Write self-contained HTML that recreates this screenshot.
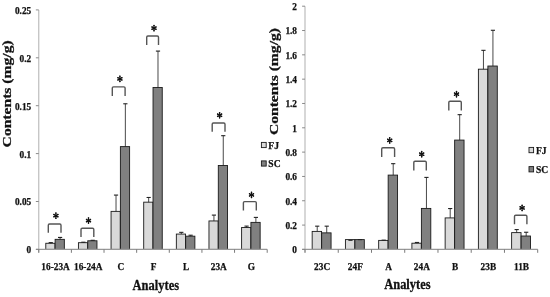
<!DOCTYPE html>
<html><head><meta charset="utf-8"><style>
html,body{margin:0;padding:0;background:#fff;width:550px;height:297px;overflow:hidden}
svg{display:block;filter:blur(0.25px)}
text{font-family:"Liberation Serif", serif;font-weight:bold;fill:#111;stroke:#111;stroke-width:0.25px}
.t{font-size:9.3px}
.lg{font-size:9.6px}
.ax{font-size:12.5px}
.yt{font-size:12.8px}
.star{font-size:14px}
</style></head><body>
<svg width="550" height="297" viewBox="0 0 550 297">
<rect width="550" height="297" fill="#fff"/>
<rect x="45.79" y="243.27" width="9.22" height="6.13" fill="#d9d9d9" stroke="#1a1a1a" stroke-width="0.9"/>
<rect x="55.12" y="239.34" width="9.22" height="10.06" fill="#808080" stroke="#1a1a1a" stroke-width="0.9"/>
<line x1="50.76" y1="243.27" x2="50.76" y2="242.6" stroke="#1a1a1a" stroke-width="0.8"/>
<line x1="48.66" y1="242.6" x2="52.86" y2="242.6" stroke="#222" stroke-width="1.1"/>
<line x1="60.08" y1="239.34" x2="60.08" y2="237.43" stroke="#1a1a1a" stroke-width="0.8"/>
<line x1="57.98" y1="237.43" x2="62.18" y2="237.43" stroke="#222" stroke-width="1.1"/>
<rect x="78.43" y="242.69" width="9.22" height="6.71" fill="#d9d9d9" stroke="#1a1a1a" stroke-width="0.9"/>
<rect x="87.75" y="240.78" width="9.22" height="8.62" fill="#808080" stroke="#1a1a1a" stroke-width="0.9"/>
<line x1="83.39" y1="242.69" x2="83.39" y2="242.22" stroke="#1a1a1a" stroke-width="0.8"/>
<line x1="81.29" y1="242.22" x2="85.49" y2="242.22" stroke="#222" stroke-width="1.1"/>
<line x1="92.72" y1="240.78" x2="92.72" y2="240.3" stroke="#1a1a1a" stroke-width="0.8"/>
<line x1="90.62" y1="240.3" x2="94.82" y2="240.3" stroke="#222" stroke-width="1.1"/>
<rect x="111.06" y="211.37" width="9.22" height="38.03" fill="#d9d9d9" stroke="#1a1a1a" stroke-width="0.9"/>
<rect x="120.39" y="146.61" width="9.22" height="102.79" fill="#808080" stroke="#1a1a1a" stroke-width="0.9"/>
<line x1="116.03" y1="211.37" x2="116.03" y2="195.08" stroke="#1a1a1a" stroke-width="0.8"/>
<line x1="113.93" y1="195.08" x2="118.13" y2="195.08" stroke="#222" stroke-width="1.1"/>
<line x1="125.35" y1="146.61" x2="125.35" y2="103.78" stroke="#1a1a1a" stroke-width="0.8"/>
<line x1="123.25" y1="103.78" x2="127.45" y2="103.78" stroke="#222" stroke-width="1.1"/>
<rect x="143.7" y="202.17" width="9.22" height="47.23" fill="#d9d9d9" stroke="#1a1a1a" stroke-width="0.9"/>
<rect x="153.03" y="87.5" width="9.22" height="161.9" fill="#808080" stroke="#1a1a1a" stroke-width="0.9"/>
<line x1="148.66" y1="202.17" x2="148.66" y2="197.48" stroke="#1a1a1a" stroke-width="0.8"/>
<line x1="146.56" y1="197.48" x2="150.76" y2="197.48" stroke="#222" stroke-width="1.1"/>
<line x1="157.99" y1="87.5" x2="157.99" y2="51.09" stroke="#1a1a1a" stroke-width="0.8"/>
<line x1="155.89" y1="51.09" x2="160.09" y2="51.09" stroke="#222" stroke-width="1.1"/>
<rect x="176.34" y="234.07" width="9.22" height="15.33" fill="#d9d9d9" stroke="#1a1a1a" stroke-width="0.9"/>
<rect x="185.66" y="236.18" width="9.22" height="13.22" fill="#808080" stroke="#1a1a1a" stroke-width="0.9"/>
<line x1="181.3" y1="234.07" x2="181.3" y2="232.35" stroke="#1a1a1a" stroke-width="0.8"/>
<line x1="179.2" y1="232.35" x2="183.4" y2="232.35" stroke="#222" stroke-width="1.1"/>
<line x1="190.62" y1="236.18" x2="190.62" y2="235.22" stroke="#1a1a1a" stroke-width="0.8"/>
<line x1="188.52" y1="235.22" x2="192.72" y2="235.22" stroke="#222" stroke-width="1.1"/>
<rect x="208.97" y="220.95" width="9.22" height="28.45" fill="#d9d9d9" stroke="#1a1a1a" stroke-width="0.9"/>
<rect x="218.3" y="165.48" width="9.22" height="83.92" fill="#808080" stroke="#1a1a1a" stroke-width="0.9"/>
<line x1="213.93" y1="220.95" x2="213.93" y2="215.1" stroke="#1a1a1a" stroke-width="0.8"/>
<line x1="211.83" y1="215.1" x2="216.03" y2="215.1" stroke="#222" stroke-width="1.1"/>
<line x1="223.26" y1="165.48" x2="223.26" y2="135.69" stroke="#1a1a1a" stroke-width="0.8"/>
<line x1="221.16" y1="135.69" x2="225.36" y2="135.69" stroke="#222" stroke-width="1.1"/>
<rect x="241.61" y="227.46" width="9.22" height="21.94" fill="#d9d9d9" stroke="#1a1a1a" stroke-width="0.9"/>
<rect x="250.93" y="222.38" width="9.22" height="27.02" fill="#808080" stroke="#1a1a1a" stroke-width="0.9"/>
<line x1="246.57" y1="227.46" x2="246.57" y2="226.12" stroke="#1a1a1a" stroke-width="0.8"/>
<line x1="244.47" y1="226.12" x2="248.67" y2="226.12" stroke="#222" stroke-width="1.1"/>
<line x1="255.89" y1="222.38" x2="255.89" y2="217.4" stroke="#1a1a1a" stroke-width="0.8"/>
<line x1="253.79" y1="217.4" x2="257.99" y2="217.4" stroke="#222" stroke-width="1.1"/>
<line x1="38.75" y1="9.9" x2="38.75" y2="252.4" stroke="#bcbcbc" stroke-width="1.2"/>
<line x1="35.95" y1="249.4" x2="267.2" y2="249.4" stroke="#989898" stroke-width="1.2"/>
<line x1="35.85" y1="249.4" x2="38.75" y2="249.4" stroke="#8a8a8a" stroke-width="1.0"/>
<text x="31.2" y="253.3" text-anchor="end" class="t">0</text>
<line x1="35.85" y1="201.5" x2="38.75" y2="201.5" stroke="#8a8a8a" stroke-width="1.0"/>
<text x="31.2" y="205.4" text-anchor="end" class="t">0.05</text>
<line x1="35.85" y1="153.6" x2="38.75" y2="153.6" stroke="#8a8a8a" stroke-width="1.0"/>
<text x="31.2" y="157.5" text-anchor="end" class="t">0.1</text>
<line x1="35.85" y1="105.7" x2="38.75" y2="105.7" stroke="#8a8a8a" stroke-width="1.0"/>
<text x="31.2" y="109.6" text-anchor="end" class="t">0.15</text>
<line x1="35.85" y1="57.8" x2="38.75" y2="57.8" stroke="#8a8a8a" stroke-width="1.0"/>
<text x="31.2" y="61.7" text-anchor="end" class="t">0.2</text>
<line x1="35.85" y1="9.9" x2="38.75" y2="9.9" stroke="#8a8a8a" stroke-width="1.0"/>
<text x="31.2" y="13.8" text-anchor="end" class="t">0.25</text>
<line x1="38.75" y1="249.4" x2="38.75" y2="252.8" stroke="#7a7a7a" stroke-width="1.0"/>
<line x1="71.39" y1="249.4" x2="71.39" y2="252.8" stroke="#7a7a7a" stroke-width="1.0"/>
<line x1="104.02" y1="249.4" x2="104.02" y2="252.8" stroke="#7a7a7a" stroke-width="1.0"/>
<line x1="136.66" y1="249.4" x2="136.66" y2="252.8" stroke="#7a7a7a" stroke-width="1.0"/>
<line x1="169.29" y1="249.4" x2="169.29" y2="252.8" stroke="#7a7a7a" stroke-width="1.0"/>
<line x1="201.93" y1="249.4" x2="201.93" y2="252.8" stroke="#7a7a7a" stroke-width="1.0"/>
<line x1="234.56" y1="249.4" x2="234.56" y2="252.8" stroke="#7a7a7a" stroke-width="1.0"/>
<line x1="267.2" y1="249.4" x2="267.2" y2="252.8" stroke="#7a7a7a" stroke-width="1.0"/>
<text x="55.57" y="269.6" text-anchor="middle" class="t">16-23A</text>
<text x="88.2" y="269.6" text-anchor="middle" class="t">16-24A</text>
<text x="120.84" y="269.6" text-anchor="middle" class="t">C</text>
<text x="153.47" y="269.6" text-anchor="middle" class="t">F</text>
<text x="186.11" y="269.6" text-anchor="middle" class="t">L</text>
<text x="218.75" y="269.6" text-anchor="middle" class="t">23A</text>
<text x="251.38" y="269.6" text-anchor="middle" class="t">G</text>
<rect x="312.17" y="231.4" width="9.4" height="18" fill="#d9d9d9" stroke="#1a1a1a" stroke-width="0.9"/>
<rect x="321.67" y="232.86" width="9.4" height="16.54" fill="#808080" stroke="#1a1a1a" stroke-width="0.9"/>
<line x1="317.22" y1="231.4" x2="317.22" y2="226.17" stroke="#1a1a1a" stroke-width="0.8"/>
<line x1="315.12" y1="226.17" x2="319.32" y2="226.17" stroke="#222" stroke-width="1.1"/>
<line x1="326.72" y1="232.86" x2="326.72" y2="226.17" stroke="#1a1a1a" stroke-width="0.8"/>
<line x1="324.62" y1="226.17" x2="328.82" y2="226.17" stroke="#222" stroke-width="1.1"/>
<rect x="345.42" y="239.6" width="9.4" height="9.8" fill="#d9d9d9" stroke="#1a1a1a" stroke-width="0.9"/>
<rect x="354.91" y="239.6" width="9.4" height="9.8" fill="#808080" stroke="#1a1a1a" stroke-width="0.9"/>
<line x1="348.37" y1="240.3" x2="352.57" y2="240.3" stroke="#222" stroke-width="1.1"/>
<line x1="357.86" y1="239.6" x2="362.06" y2="239.6" stroke="#222" stroke-width="1.1"/>
<rect x="378.66" y="240.4" width="9.4" height="9" fill="#d9d9d9" stroke="#1a1a1a" stroke-width="0.9"/>
<rect x="388.16" y="175.1" width="9.4" height="74.3" fill="#808080" stroke="#1a1a1a" stroke-width="0.9"/>
<line x1="383.71" y1="240.4" x2="383.71" y2="240.16" stroke="#1a1a1a" stroke-width="0.8"/>
<line x1="381.61" y1="240.16" x2="385.81" y2="240.16" stroke="#222" stroke-width="1.1"/>
<line x1="393.21" y1="175.1" x2="393.21" y2="163.67" stroke="#1a1a1a" stroke-width="0.8"/>
<line x1="391.11" y1="163.67" x2="395.31" y2="163.67" stroke="#222" stroke-width="1.1"/>
<rect x="411.9" y="243.2" width="9.4" height="6.2" fill="#d9d9d9" stroke="#1a1a1a" stroke-width="0.9"/>
<rect x="421.4" y="208.42" width="9.4" height="40.98" fill="#808080" stroke="#1a1a1a" stroke-width="0.9"/>
<line x1="416.95" y1="243.2" x2="416.95" y2="242.47" stroke="#1a1a1a" stroke-width="0.8"/>
<line x1="414.85" y1="242.47" x2="419.05" y2="242.47" stroke="#222" stroke-width="1.1"/>
<line x1="426.45" y1="208.42" x2="426.45" y2="177.41" stroke="#1a1a1a" stroke-width="0.8"/>
<line x1="424.35" y1="177.41" x2="428.55" y2="177.41" stroke="#222" stroke-width="1.1"/>
<rect x="445.14" y="217.91" width="9.4" height="31.49" fill="#d9d9d9" stroke="#1a1a1a" stroke-width="0.9"/>
<rect x="454.64" y="140.08" width="9.4" height="109.32" fill="#808080" stroke="#1a1a1a" stroke-width="0.9"/>
<line x1="450.19" y1="217.91" x2="450.19" y2="208.54" stroke="#1a1a1a" stroke-width="0.8"/>
<line x1="448.09" y1="208.54" x2="452.29" y2="208.54" stroke="#222" stroke-width="1.1"/>
<line x1="459.69" y1="140.08" x2="459.69" y2="114.67" stroke="#1a1a1a" stroke-width="0.8"/>
<line x1="457.59" y1="114.67" x2="461.79" y2="114.67" stroke="#222" stroke-width="1.1"/>
<rect x="478.39" y="69.19" width="9.4" height="180.21" fill="#d9d9d9" stroke="#1a1a1a" stroke-width="0.9"/>
<rect x="487.89" y="66.03" width="9.4" height="183.37" fill="#808080" stroke="#1a1a1a" stroke-width="0.9"/>
<line x1="483.44" y1="69.19" x2="483.44" y2="50.34" stroke="#1a1a1a" stroke-width="0.8"/>
<line x1="481.34" y1="50.34" x2="485.54" y2="50.34" stroke="#222" stroke-width="1.1"/>
<line x1="492.93" y1="66.03" x2="492.93" y2="30.28" stroke="#1a1a1a" stroke-width="0.8"/>
<line x1="490.83" y1="30.28" x2="495.03" y2="30.28" stroke="#222" stroke-width="1.1"/>
<rect x="511.63" y="232.62" width="9.4" height="16.78" fill="#d9d9d9" stroke="#1a1a1a" stroke-width="0.9"/>
<rect x="521.13" y="236.02" width="9.4" height="13.38" fill="#808080" stroke="#1a1a1a" stroke-width="0.9"/>
<line x1="516.68" y1="232.62" x2="516.68" y2="229.58" stroke="#1a1a1a" stroke-width="0.8"/>
<line x1="514.58" y1="229.58" x2="518.78" y2="229.58" stroke="#222" stroke-width="1.1"/>
<line x1="526.18" y1="236.02" x2="526.18" y2="232.25" stroke="#1a1a1a" stroke-width="0.8"/>
<line x1="524.08" y1="232.25" x2="528.28" y2="232.25" stroke="#222" stroke-width="1.1"/>
<line x1="305" y1="6.2" x2="305" y2="252.4" stroke="#bcbcbc" stroke-width="1.2"/>
<line x1="302.2" y1="249.4" x2="537.7" y2="249.4" stroke="#989898" stroke-width="1.2"/>
<line x1="302.1" y1="249.4" x2="305" y2="249.4" stroke="#8a8a8a" stroke-width="1.0"/>
<text x="297" y="253.3" text-anchor="end" class="t">0</text>
<line x1="302.1" y1="225.08" x2="305" y2="225.08" stroke="#8a8a8a" stroke-width="1.0"/>
<text x="297" y="228.98" text-anchor="end" class="t">0.2</text>
<line x1="302.1" y1="200.76" x2="305" y2="200.76" stroke="#8a8a8a" stroke-width="1.0"/>
<text x="297" y="204.66" text-anchor="end" class="t">0.4</text>
<line x1="302.1" y1="176.44" x2="305" y2="176.44" stroke="#8a8a8a" stroke-width="1.0"/>
<text x="297" y="180.34" text-anchor="end" class="t">0.6</text>
<line x1="302.1" y1="152.12" x2="305" y2="152.12" stroke="#8a8a8a" stroke-width="1.0"/>
<text x="297" y="156.02" text-anchor="end" class="t">0.8</text>
<line x1="302.1" y1="127.8" x2="305" y2="127.8" stroke="#8a8a8a" stroke-width="1.0"/>
<text x="297" y="131.7" text-anchor="end" class="t">1</text>
<line x1="302.1" y1="103.48" x2="305" y2="103.48" stroke="#8a8a8a" stroke-width="1.0"/>
<text x="297" y="107.38" text-anchor="end" class="t">1.2</text>
<line x1="302.1" y1="79.16" x2="305" y2="79.16" stroke="#8a8a8a" stroke-width="1.0"/>
<text x="297" y="83.06" text-anchor="end" class="t">1.4</text>
<line x1="302.1" y1="54.84" x2="305" y2="54.84" stroke="#8a8a8a" stroke-width="1.0"/>
<text x="297" y="58.74" text-anchor="end" class="t">1.6</text>
<line x1="302.1" y1="30.52" x2="305" y2="30.52" stroke="#8a8a8a" stroke-width="1.0"/>
<text x="297" y="34.42" text-anchor="end" class="t">1.8</text>
<line x1="302.1" y1="6.2" x2="305" y2="6.2" stroke="#8a8a8a" stroke-width="1.0"/>
<text x="297" y="10.1" text-anchor="end" class="t">2</text>
<line x1="305" y1="249.4" x2="305" y2="252.8" stroke="#7a7a7a" stroke-width="1.0"/>
<line x1="338.24" y1="249.4" x2="338.24" y2="252.8" stroke="#7a7a7a" stroke-width="1.0"/>
<line x1="371.49" y1="249.4" x2="371.49" y2="252.8" stroke="#7a7a7a" stroke-width="1.0"/>
<line x1="404.73" y1="249.4" x2="404.73" y2="252.8" stroke="#7a7a7a" stroke-width="1.0"/>
<line x1="437.97" y1="249.4" x2="437.97" y2="252.8" stroke="#7a7a7a" stroke-width="1.0"/>
<line x1="471.21" y1="249.4" x2="471.21" y2="252.8" stroke="#7a7a7a" stroke-width="1.0"/>
<line x1="504.46" y1="249.4" x2="504.46" y2="252.8" stroke="#7a7a7a" stroke-width="1.0"/>
<line x1="537.7" y1="249.4" x2="537.7" y2="252.8" stroke="#7a7a7a" stroke-width="1.0"/>
<text x="322.12" y="269.6" text-anchor="middle" class="t">23C</text>
<text x="355.36" y="269.6" text-anchor="middle" class="t">24F</text>
<text x="388.61" y="269.6" text-anchor="middle" class="t">A</text>
<text x="421.85" y="269.6" text-anchor="middle" class="t">24A</text>
<text x="455.09" y="269.6" text-anchor="middle" class="t">B</text>
<text x="488.34" y="269.6" text-anchor="middle" class="t">23B</text>
<text x="521.58" y="269.6" text-anchor="middle" class="t">11B</text>
<path d="M48.3 232.8 V225.25 Q48.3 224.05 49.5 224.05 H59.8 Q61 224.05 61 225.25 V232.8" fill="none" stroke="#555555" stroke-width="1.4"/>
<g fill="#111"><path d="M55.9 215.65L55.9 212.95M55.9 215.65L55.9 218.35M55.9 215.65L57.94 214.47M55.9 215.65L53.86 214.47M55.9 215.65L53.86 216.83M55.9 215.65L57.94 216.83" stroke="#111" stroke-width="1.15" stroke-linecap="round" fill="none"/><circle cx="55.9" cy="213.1" r="0.8"/><circle cx="55.9" cy="218.2" r="0.8"/><circle cx="57.81" cy="214.55" r="0.8"/><circle cx="53.99" cy="214.55" r="0.8"/><circle cx="53.99" cy="216.75" r="0.8"/><circle cx="57.81" cy="216.75" r="0.8"/><circle cx="55.9" cy="215.65" r="0.9"/></g>
<path d="M81 237 V229.45 Q81 228.25 82.2 228.25 H92.6 Q93.8 228.25 93.8 229.45 V237" fill="none" stroke="#555555" stroke-width="1.4"/>
<g fill="#111"><path d="M88.5 220.55L88.5 217.85M88.5 220.55L88.5 223.25M88.5 220.55L90.54 219.38M88.5 220.55L86.46 219.38M88.5 220.55L86.46 221.73M88.5 220.55L90.54 221.73" stroke="#111" stroke-width="1.15" stroke-linecap="round" fill="none"/><circle cx="88.5" cy="218" r="0.8"/><circle cx="88.5" cy="223.1" r="0.8"/><circle cx="90.41" cy="219.45" r="0.8"/><circle cx="86.59" cy="219.45" r="0.8"/><circle cx="86.59" cy="221.65" r="0.8"/><circle cx="90.41" cy="221.65" r="0.8"/><circle cx="88.5" cy="220.55" r="0.9"/></g>
<path d="M112.3 96.1 V88.05 Q112.3 86.85 113.5 86.85 H123.9 Q125.1 86.85 125.1 88.05 V96.1" fill="none" stroke="#555555" stroke-width="1.4"/>
<g fill="#111"><path d="M119.9 78.85L119.9 76.15M119.9 78.85L119.9 81.55M119.9 78.85L121.94 77.67M119.9 78.85L117.86 77.67M119.9 78.85L117.86 80.02M119.9 78.85L121.94 80.02" stroke="#111" stroke-width="1.15" stroke-linecap="round" fill="none"/><circle cx="119.9" cy="76.3" r="0.8"/><circle cx="119.9" cy="81.4" r="0.8"/><circle cx="121.81" cy="77.75" r="0.8"/><circle cx="117.99" cy="77.75" r="0.8"/><circle cx="117.99" cy="79.95" r="0.8"/><circle cx="121.81" cy="79.95" r="0.8"/><circle cx="119.9" cy="78.85" r="0.9"/></g>
<path d="M146.7 44.9 V37.25 Q146.7 36.05 147.9 36.05 H157.3 Q158.5 36.05 158.5 37.25 V44.9" fill="none" stroke="#555555" stroke-width="1.4"/>
<g fill="#111"><path d="M154 28.15L154 25.45M154 28.15L154 30.85M154 28.15L156.04 26.97M154 28.15L151.96 26.97M154 28.15L151.96 29.32M154 28.15L156.04 29.32" stroke="#111" stroke-width="1.15" stroke-linecap="round" fill="none"/><circle cx="154" cy="25.6" r="0.8"/><circle cx="154" cy="30.7" r="0.8"/><circle cx="155.91" cy="27.05" r="0.8"/><circle cx="152.09" cy="27.05" r="0.8"/><circle cx="152.09" cy="29.25" r="0.8"/><circle cx="155.91" cy="29.25" r="0.8"/><circle cx="154" cy="28.15" r="0.9"/></g>
<path d="M212.2 131.7 V124.15 Q212.2 122.95 213.4 122.95 H223.8 Q225 122.95 225 124.15 V131.7" fill="none" stroke="#555555" stroke-width="1.4"/>
<g fill="#111"><path d="M219.6 115.25L219.6 112.55M219.6 115.25L219.6 117.95M219.6 115.25L221.64 114.08M219.6 115.25L217.56 114.08M219.6 115.25L217.56 116.42M219.6 115.25L221.64 116.42" stroke="#111" stroke-width="1.15" stroke-linecap="round" fill="none"/><circle cx="219.6" cy="112.7" r="0.8"/><circle cx="219.6" cy="117.8" r="0.8"/><circle cx="221.51" cy="114.15" r="0.8"/><circle cx="217.69" cy="114.15" r="0.8"/><circle cx="217.69" cy="116.35" r="0.8"/><circle cx="221.51" cy="116.35" r="0.8"/><circle cx="219.6" cy="115.25" r="0.9"/></g>
<path d="M243.4 210.4 V202.85 Q243.4 201.65 244.6 201.65 H255.1 Q256.3 201.65 256.3 202.85 V210.4" fill="none" stroke="#555555" stroke-width="1.4"/>
<g fill="#111"><path d="M251.5 194.9L251.5 192.2M251.5 194.9L251.5 197.6M251.5 194.9L253.54 193.72M251.5 194.9L249.46 193.72M251.5 194.9L249.46 196.07M251.5 194.9L253.54 196.07" stroke="#111" stroke-width="1.15" stroke-linecap="round" fill="none"/><circle cx="251.5" cy="192.35" r="0.8"/><circle cx="251.5" cy="197.45" r="0.8"/><circle cx="253.41" cy="193.8" r="0.8"/><circle cx="249.59" cy="193.8" r="0.8"/><circle cx="249.59" cy="196" r="0.8"/><circle cx="253.41" cy="196" r="0.8"/><circle cx="251.5" cy="194.9" r="0.9"/></g>
<path d="M381.7 157.1 V148.95 Q381.7 147.75 382.9 147.75 H393.4 Q394.6 147.75 394.6 148.95 V157.1" fill="none" stroke="#555555" stroke-width="1.4"/>
<g fill="#111"><path d="M389.7 140.4L389.7 137.7M389.7 140.4L389.7 143.1M389.7 140.4L391.74 139.22M389.7 140.4L387.66 139.22M389.7 140.4L387.66 141.57M389.7 140.4L391.74 141.57" stroke="#111" stroke-width="1.15" stroke-linecap="round" fill="none"/><circle cx="389.7" cy="137.85" r="0.8"/><circle cx="389.7" cy="142.95" r="0.8"/><circle cx="391.61" cy="139.3" r="0.8"/><circle cx="387.79" cy="139.3" r="0.8"/><circle cx="387.79" cy="141.5" r="0.8"/><circle cx="391.61" cy="141.5" r="0.8"/><circle cx="389.7" cy="140.4" r="0.9"/></g>
<path d="M413.8 170.4 V162.45 Q413.8 161.25 415 161.25 H425.1 Q426.3 161.25 426.3 162.45 V170.4" fill="none" stroke="#555555" stroke-width="1.4"/>
<g fill="#111"><path d="M421.7 154.2L421.7 151.5M421.7 154.2L421.7 156.9M421.7 154.2L423.74 153.02M421.7 154.2L419.66 153.02M421.7 154.2L419.66 155.38M421.7 154.2L423.74 155.38" stroke="#111" stroke-width="1.15" stroke-linecap="round" fill="none"/><circle cx="421.7" cy="151.65" r="0.8"/><circle cx="421.7" cy="156.75" r="0.8"/><circle cx="423.61" cy="153.1" r="0.8"/><circle cx="419.79" cy="153.1" r="0.8"/><circle cx="419.79" cy="155.3" r="0.8"/><circle cx="423.61" cy="155.3" r="0.8"/><circle cx="421.7" cy="154.2" r="0.9"/></g>
<path d="M448.8 110.4 V102.45 Q448.8 101.25 450 101.25 H460.1 Q461.3 101.25 461.3 102.45 V110.4" fill="none" stroke="#555555" stroke-width="1.4"/>
<g fill="#111"><path d="M456.5 94.2L456.5 91.5M456.5 94.2L456.5 96.9M456.5 94.2L458.54 93.02M456.5 94.2L454.46 93.02M456.5 94.2L454.46 95.37M456.5 94.2L458.54 95.37" stroke="#111" stroke-width="1.15" stroke-linecap="round" fill="none"/><circle cx="456.5" cy="91.65" r="0.8"/><circle cx="456.5" cy="96.75" r="0.8"/><circle cx="458.41" cy="93.1" r="0.8"/><circle cx="454.59" cy="93.1" r="0.8"/><circle cx="454.59" cy="95.3" r="0.8"/><circle cx="458.41" cy="95.3" r="0.8"/><circle cx="456.5" cy="94.2" r="0.9"/></g>
<path d="M514.5 224.2 V216.45 Q514.5 215.25 515.7 215.25 H525.7 Q526.9 215.25 526.9 216.45 V224.2" fill="none" stroke="#555555" stroke-width="1.4"/>
<g fill="#111"><path d="M522.1 207.95L522.1 205.25M522.1 207.95L522.1 210.65M522.1 207.95L524.14 206.77M522.1 207.95L520.06 206.77M522.1 207.95L520.06 209.12M522.1 207.95L524.14 209.12" stroke="#111" stroke-width="1.15" stroke-linecap="round" fill="none"/><circle cx="522.1" cy="205.4" r="0.8"/><circle cx="522.1" cy="210.5" r="0.8"/><circle cx="524.01" cy="206.85" r="0.8"/><circle cx="520.19" cy="206.85" r="0.8"/><circle cx="520.19" cy="209.05" r="0.8"/><circle cx="524.01" cy="209.05" r="0.8"/><circle cx="522.1" cy="207.95" r="0.9"/></g>
<rect x="261.4" y="142.4" width="4.8" height="5.2" fill="#d9d9d9" stroke="#1a1a1a" stroke-width="0.9"/>
<text x="268.3" y="148.8" class="lg">FJ</text>
<rect x="261.4" y="160.9" width="4.8" height="5.2" fill="#808080" stroke="#1a1a1a" stroke-width="0.9"/>
<text x="268.3" y="167.3" class="lg">SC</text>
<rect x="529" y="147.4" width="4.6" height="5.3" fill="#d9d9d9" stroke="#1a1a1a" stroke-width="0.9"/>
<text x="536" y="153.9" class="lg">FJ</text>
<rect x="529" y="166.6" width="4.6" height="5.3" fill="#808080" stroke="#1a1a1a" stroke-width="0.9"/>
<text x="536" y="173.1" class="lg">SC</text>
<text x="0" y="0" transform="translate(155.8 290.3) scale(1 1.2)" text-anchor="middle" class="ax">Analytes</text>
<text x="0" y="0" transform="translate(407.4 288.9) scale(1 1.2)" text-anchor="middle" class="ax">Analytes</text>
<text class="yt" transform="translate(11.0 93.85) rotate(-90) scale(1.221 1)" text-anchor="middle" x="0" y="0">Contents (mg/g)</text>
<text class="yt" transform="translate(278.0 81.55) rotate(-90) scale(1.221 1)" text-anchor="middle" x="0" y="0">Contents (mg/g)</text>
</svg>
</body></html>
